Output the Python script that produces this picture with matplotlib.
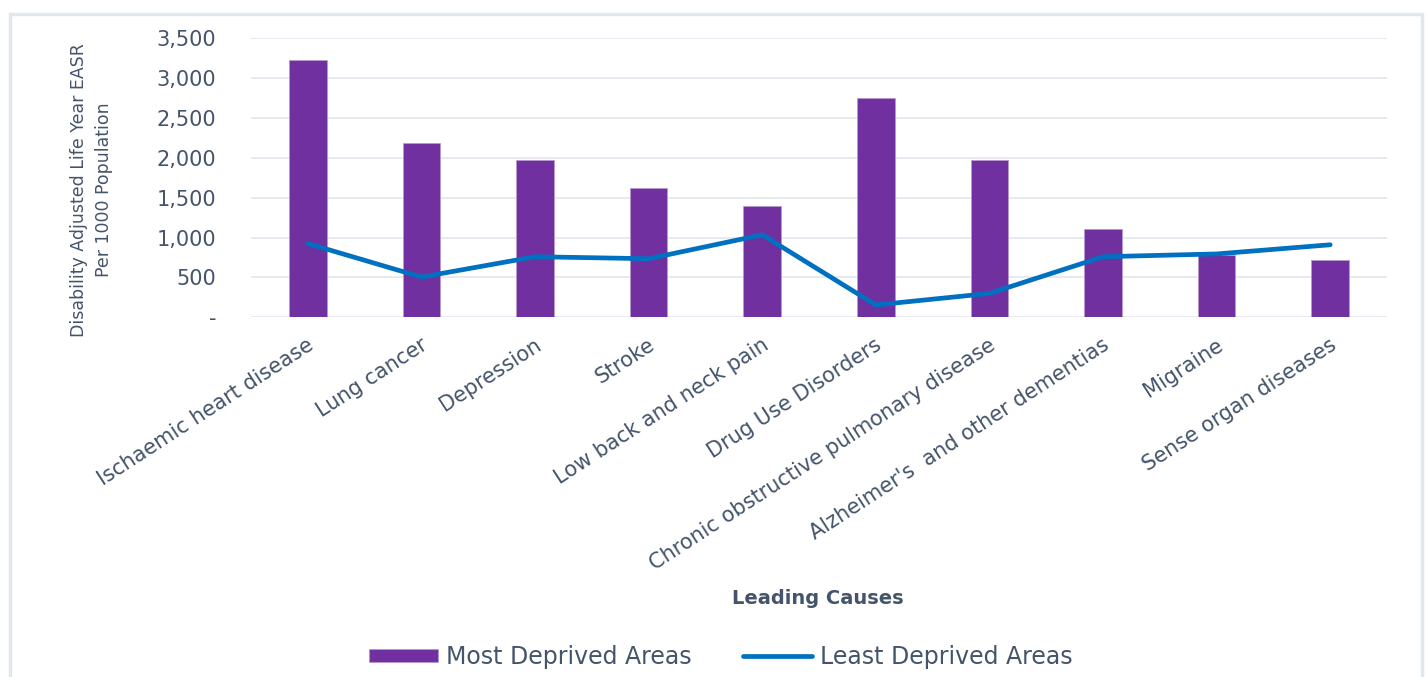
import numpy as np
import matplotlib.pyplot as plt
import matplotlib.transforms as mtransforms
from matplotlib.patches import Rectangle
from matplotlib.ticker import FuncFormatter

# DALY EASR per 1000 population, most vs least deprived areas
causes = ["Ischaemic heart disease", "Lung cancer", "Depression", "Stroke",
          "Low back and neck pain", "Drug Use Disorders",
          "Chronic obstructive pulmonary disease",
          "Alzheimer's  and other dementias", "Migraine",
          "Sense organ diseases"]
most_deprived = [3230, 2190, 1975, 1620, 1400, 2750, 1975, 1110, 780, 720]
least_deprived = [925, 505, 760, 735, 1035, 155, 300, 760, 795, 910]

purple = "#7030A0"
blue = "#0070C0"
txt = "#44546A"

fig = plt.figure(figsize=(14.28, 6.77), dpi=100)
ax = fig.add_axes([0.1758, 0.5313, 0.7955, 0.4121])

x = np.arange(len(causes))
bars = ax.bar(x, most_deprived, width=0.33, color=purple, edgecolor="#b89ad0",
              linewidth=0.6, label="Most Deprived Areas", zorder=2)
line, = ax.plot(x, least_deprived, color=blue, lw=3.4, solid_capstyle="round",
                solid_joinstyle="round", label="Least Deprived Areas", zorder=3)

ax.set_xlim(-0.5, len(causes) - 0.5)
ax.set_ylim(0, 3500)
ax.set_yticks(np.arange(0, 3501, 500))
ax.yaxis.set_major_formatter(FuncFormatter(lambda v, p: "-" if v == 0 else f"{int(v):,}"))
ax.grid(axis="y", color="#e3e6ee", lw=1.2, zorder=0)
for s in ax.spines.values():
    s.set_visible(False)
ax.tick_params(axis="both", length=0, colors=txt)
ax.tick_params(axis="y", labelsize=15, pad=25)

ax.set_xticks(x)
ax.set_xticklabels(causes, rotation=33, ha="right", va="center",
                   rotation_mode="anchor", fontsize=15, color=txt)
shift = mtransforms.ScaledTranslation(3 / 72, -15 / 72, fig.dpi_scale_trans)
for lab in ax.get_xticklabels():
    lab.set_transform(lab.get_transform() + shift)

fig.text(818 / 1428, 1 - 598 / 677, "Leading Causes", ha="center", va="center",
         fontsize=14, fontweight="bold", color=txt)
fig.text(92 / 1428, 1 - 190 / 677,
         "Disability Adjusted Life Year EASR\nPer 1000 Population",
         rotation=90, ha="center", va="center", fontsize=12.5, color=txt,
         linespacing=1.5)

fig.legend([bars, line], ["Most Deprived Areas", "Least Deprived Areas"],
           loc="center", bbox_to_anchor=(721 / 1428, 1 - 657 / 677), ncol=2,
           frameon=False, fontsize=17, labelcolor=txt, handlelength=2.9,
           handleheight=0.5, handletextpad=0.35, columnspacing=2.2)

# light frame around the chart area
fig.patches.append(Rectangle((10 / 1428, -0.01), 1412 / 1428, 1 - 14 / 677 + 0.01,
                             transform=fig.transFigure, fill=False,
                             edgecolor="#e2e7ee", lw=2.5))

fig.savefig("out.png", dpi=100, facecolor="white")
